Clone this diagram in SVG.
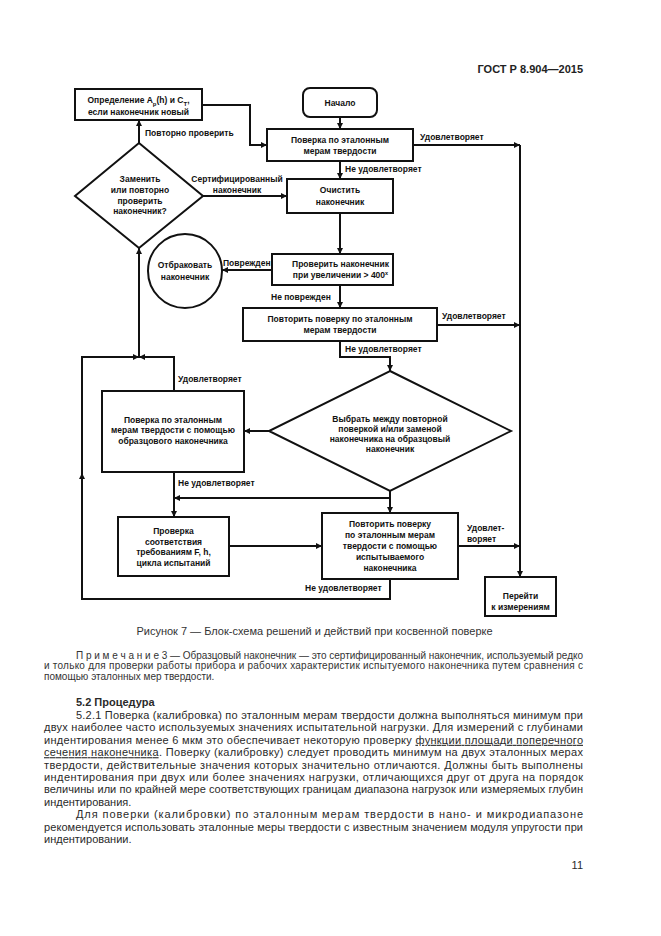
<svg xmlns="http://www.w3.org/2000/svg" width="661" height="936" viewBox="0 0 661 936">
<style>
.bg{fill:#ffffff}
.box{fill:#ffffff;stroke:#111;stroke-width:2}
.ln{fill:none;stroke:#111;stroke-width:2}
.t{font-family:"Liberation Sans",Arial,sans-serif;font-size:8.5px;font-weight:bold;fill:#111;text-anchor:middle}
.l{font-family:"Liberation Sans",Arial,sans-serif;font-size:8.5px;font-weight:bold;fill:#111}
.hd{font-family:"Liberation Sans",Arial,sans-serif;font-size:11px;font-weight:bold;fill:#222}
.cap{font-family:"Liberation Sans",Arial,sans-serif;font-size:11px;fill:#333;text-anchor:middle}
.nt{font-family:"Liberation Sans",Arial,sans-serif;font-size:10px;fill:#333}
.bd{font-family:"Liberation Sans",Arial,sans-serif;font-size:11px;fill:#2a2a2a}
.u{text-decoration:underline}
</style>
<defs>
<marker id="ar" viewBox="0 0 6 6" refX="6" refY="3" markerWidth="6" markerHeight="6" markerUnits="userSpaceOnUse" orient="auto">
<path d="M0,0 L6,3 L0,6 z" fill="#111"/>
</marker>
</defs>
<rect class="bg" x="0" y="0" width="661" height="936"/>
<text class="hd" x="583" y="73" text-anchor="end">ГОСТ Р 8.904—2015</text>

<g id="connectors">
<path class="ln" d="M340,117 L340,129" marker-end="url(#ar)"/>
<path class="ln" d="M202,105 L250,105 L250,145 L267,145" marker-end="url(#ar)"/>
<path class="ln" d="M413,145 L520,145" marker-end="url(#ar)"/>
<path class="ln" d="M520,145 L520,577" marker-end="url(#ar)"/>
<path class="ln" d="M340,161 L340,179" marker-end="url(#ar)"/>
<path class="ln" d="M139,143 L139,120" marker-end="url(#ar)"/>
<path class="ln" d="M203,196 L287,196" marker-end="url(#ar)"/>
<path class="ln" d="M340,213 L340,254" marker-end="url(#ar)"/>
<path class="ln" d="M272,270 L222,270" marker-end="url(#ar)"/>
<path class="ln" d="M340,285 L340,308" marker-end="url(#ar)"/>
<path class="ln" d="M437,325 L520,325" marker-end="url(#ar)"/>
<path class="ln" d="M340,341 L340,357 L390,357 L390,371" marker-end="url(#ar)"/>
<path class="ln" d="M269,431 L244,431" marker-end="url(#ar)"/>
<path class="ln" d="M174,391 L174,357 L139,357" marker-end="url(#ar)"/>
<path class="ln" d="M82,473 L82,357 L139,357" marker-end="url(#ar)"/>
<path class="ln" d="M390,579 L390,599 L82,599 L82,473" marker-end="url(#ar)"/>
<path class="ln" d="M139,357 L139,248" marker-end="url(#ar)"/>
<path class="ln" d="M174,472 L174,517" marker-end="url(#ar)"/>
<path class="ln" d="M390,491 L390,513" marker-end="url(#ar)"/>
<path class="ln" d="M390,498 L174,498" marker-end="url(#ar)"/>
<path class="ln" d="M229,546 L322,546" marker-end="url(#ar)"/>
<path class="ln" d="M458,546 L520,546" marker-end="url(#ar)"/>
<text class="l" x="420" y="140">Удовлетворяет</text>
<text class="l" x="345" y="172">Не удовлетворяет</text>
<text class="l" x="145" y="136">Повторно проверить</text>
<text class="t" x="237" y="182">Сертифицированный</text>
<text class="t" x="237" y="193">наконечник</text>
<text class="l" x="223" y="265.5" font-size="8">Поврежден</text>
<text class="l" x="271" y="299.5">Не поврежден</text>
<text class="l" x="442" y="319">Удовлетворяет</text>
<text class="l" x="345" y="352">Не удовлетворяет</text>
<text class="l" x="178" y="382">Удовлетворяет</text>
<text class="l" x="178" y="486">Не удовлетворяет</text>
<text class="l" x="467" y="531">Удовлет-</text>
<text class="l" x="467" y="542">воряет</text>
<text class="l" x="305" y="591">Не удовлетворяет</text>
</g>

<g id="n-opred">
<rect class="box" x="75" y="89" width="127" height="31"/>
<text class="t" x="138.5" y="103">Определение A<tspan baseline-shift="sub" font-size="6">p</tspan>(h) и C<tspan baseline-shift="sub" font-size="6">T</tspan>,</text>
<text class="t" x="138.5" y="115">если наконечник новый</text>
</g>
<g id="n-start">
<rect class="box" x="303" y="88" width="74" height="29" rx="7"/>
<text class="t" x="340" y="106">Начало</text>
</g>
<g id="n-poverka">
<rect class="box" x="267" y="129" width="146" height="32"/>
<text class="t" x="340" y="143">Поверка по эталонным</text>
<text class="t" x="340" y="154">мерам твердости</text>
</g>
<g id="n-zamenit">
<polygon class="box" points="139,143 203,196 139,248 75,196"/>
<text class="t" x="140" y="182">Заменить</text>
<text class="t" x="140" y="193">или повторно</text>
<text class="t" x="140" y="203.5">проверить</text>
<text class="t" x="140" y="214">наконечник?</text>
</g>
<g id="n-ochistit">
<rect class="box" x="287" y="179" width="106" height="34"/>
<text class="t" x="340" y="193">Очистить</text>
<text class="t" x="340" y="205">наконечник</text>
</g>
<g id="n-otbrak">
<circle class="box" cx="185" cy="271" r="37"/>
<text class="t" x="185" y="268">Отбраковать</text>
<text class="t" x="185" y="280">наконечник</text>
</g>
<g id="n-proverit">
<rect class="box" x="272" y="254" width="121" height="31"/>
<text class="t" x="340.5" y="266.5">Проверить наконечник</text>
<text class="t" x="340.5" y="277.5">при увеличении &gt; 400<tspan baseline-shift="super" font-size="5.5">x</tspan></text>
</g>
<g id="n-povtorit">
<rect class="box" x="243" y="308" width="194" height="33"/>
<text class="t" x="340" y="322">Повторить поверку по эталонным</text>
<text class="t" x="340" y="333">мерам твердости</text>
</g>
<g id="n-vybrat">
<polygon class="box" points="390,371 511,431 390,491 269,431"/>
<text class="t" x="390" y="422" font-size="9">Выбрать между повторной</text>
<text class="t" x="390" y="432" font-size="9">поверкой и/или заменой</text>
<text class="t" x="390" y="442" font-size="9">наконечника на образцовый</text>
<text class="t" x="390" y="452" font-size="9">наконечник</text>
</g>
<g id="n-obrazc">
<rect class="box" x="102" y="391" width="142" height="81"/>
<text class="t" x="173" y="422.5">Поверка по эталонным</text>
<text class="t" x="173" y="433">мерам твердости с помощью</text>
<text class="t" x="173" y="443.5">образцового наконечника</text>
</g>
<g id="n-sootv">
<rect class="box" x="118" y="517" width="111" height="59"/>
<text class="t" x="173.5" y="534">Проверка</text>
<text class="t" x="173.5" y="544.5">соответствия</text>
<text class="t" x="173.5" y="555">требованиям F, h,</text>
<text class="t" x="173.5" y="565.5">цикла испытаний</text>
</g>
<g id="n-ispyt">
<rect class="box" x="322" y="513" width="136" height="66"/>
<text class="t" x="390" y="526.5">Повторить поверку</text>
<text class="t" x="390" y="537.5">по эталонным мерам</text>
<text class="t" x="390" y="548.5">твердости с помощью</text>
<text class="t" x="390" y="559.5">испытываемого</text>
<text class="t" x="390" y="570.5">наконечника</text>
</g>
<g id="n-pereiti">
<rect class="box" x="485" y="577" width="71" height="39"/>
<text class="t" x="520.5" y="599">Перейти</text>
<text class="t" x="520.5" y="610">к измерениям</text>
</g>

<text class="cap" x="314.5" y="635">Рисунок 7 — Блок-схема решений и действий при косвенной поверке</text>

<text class="nt" x="76" y="658.5" textLength="507" lengthAdjust="spacing">П р и м е ч а н и е 3 — Образцовый наконечник — это сертифицированный наконечник, используемый редко</text>
<text class="nt" x="44" y="669" textLength="539" lengthAdjust="spacing">и только для проверки работы прибора и рабочих характеристик испытуемого наконечника путем сравнения с</text>
<text class="nt" x="44" y="679.5">помощью эталонных мер твердости.</text>

<text class="bd" x="76" y="706" font-weight="bold">5.2 Процедура</text>
<text class="bd" x="76" y="719" textLength="507" lengthAdjust="spacing">5.2.1 Поверка (калибровка) по эталонным мерам твердости должна выполняться минимум при</text>
<text class="bd" x="44" y="731.4" textLength="539" lengthAdjust="spacing">двух наиболее часто используемых значениях испытательной нагрузки. Для измерений с глубинами</text>
<text class="bd" x="44" y="743.8" textLength="539" lengthAdjust="spacing">индентирования менее 6 мкм это обеспечивает некоторую проверку <tspan class="u">функции площади поперечного</tspan></text>
<text class="bd" x="44" y="756.2" textLength="539" lengthAdjust="spacing"><tspan class="u">сечения наконечника</tspan>. Поверку (калибровку) следует проводить минимум на двух эталонных мерах</text>
<text class="bd" x="44" y="768.6" textLength="539" lengthAdjust="spacing">твердости, действительные значения которых значительно отличаются. Должны быть выполнены</text>
<text class="bd" x="44" y="781" textLength="539" lengthAdjust="spacing">индентирования при двух или более значениях нагрузки, отличающихся друг от друга на порядок</text>
<text class="bd" x="44" y="793.4" textLength="539" lengthAdjust="spacing">величины или по крайней мере соответствующих границам диапазона нагрузок или измеряемых глубин</text>
<text class="bd" x="44" y="805.8">индентирования.</text>
<text class="bd" x="76" y="818.2" textLength="507" lengthAdjust="spacing">Для поверки (калибровки) по эталонным мерам твердости в нано- и микродиапазоне</text>
<text class="bd" x="44" y="830.6" textLength="539" lengthAdjust="spacing">рекомендуется использовать эталонные меры твердости с известным значением модуля упругости при</text>
<text class="bd" x="44" y="843">индентировании.</text>
<text class="bd" x="583" y="869" text-anchor="end">11</text>
</svg>
